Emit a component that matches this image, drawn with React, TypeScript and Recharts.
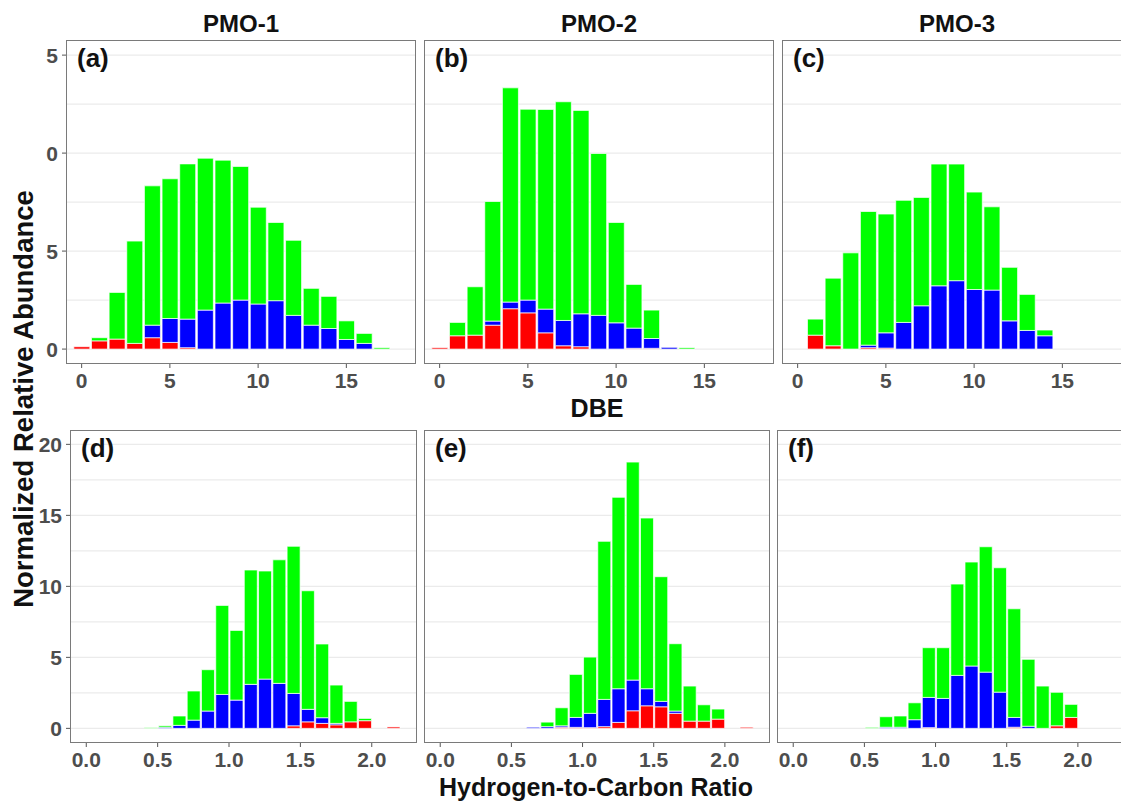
import { BarChart, Bar, XAxis, YAxis, CartesianGrid } from "recharts";

// DBE bins (0..17) and H/C bins (centres of 0.1-wide bins)
const dbeBins = [0, 1, 2, 3, 4, 5, 6, 7, 8, 9, 10, 11, 12, 13, 14, 15, 16, 17];
const hcBins = [0.45, 0.55, 0.65, 0.75, 0.85, 0.95, 1.05, 1.15, 1.25, 1.35, 1.45, 1.55, 1.65, 1.75, 1.85, 1.95, 2.05, 2.15];

// (a) PMO-1, DBE
const aRed = [0.12, 0.42, 0.51, 0.29, 0.58, 0.34, 0.07, 0, 0, 0, 0, 0, 0, 0, 0, 0, 0, 0];
const aBlue = [0, 0, 0, 0, 0.64, 1.22, 1.46, 1.99, 2.35, 2.5, 2.3, 2.47, 1.72, 1.22, 1.05, 0.49, 0.29, 0];
const aGreen = [0, 0.16, 2.38, 5.22, 7.11, 7.13, 7.92, 7.75, 7.29, 6.82, 4.94, 3.99, 3.83, 1.88, 1.64, 0.95, 0.51, 0.07];

// (b) PMO-2, DBE
const bRed = [0.07, 0.68, 0.71, 1.22, 2.06, 1.85, 0.83, 0.17, 0.12, 0, 0, 0.04, 0.04, 0, 0, 0, 0, 0];
const bBlue = [0, 0, 0, 0.21, 0.34, 0.65, 1.21, 1.29, 1.68, 1.72, 1.34, 1.03, 0.5, 0.09, 0, 0, 0, 0];
const bGreen = [0, 0.68, 2.47, 6.1, 10.93, 9.74, 10.19, 11.16, 10.38, 8.26, 5.12, 2.23, 1.45, 0, 0.07, 0, 0, 0];

// (c) PMO-3, DBE
const cRed = [0, 0.71, 0.17, 0, 0.07, 0.05, 0, 0, 0, 0, 0, 0, 0, 0, 0, 0, 0, 0];
const cBlue = [0, 0, 0, 0, 0.13, 0.78, 1.36, 2.21, 3.23, 3.49, 3.04, 3.01, 1.44, 0.95, 0.68, 0, 0, 0];
const cGreen = [0, 0.82, 3.45, 4.91, 6.82, 6.06, 6.23, 5.53, 6.21, 5.95, 4.97, 4.25, 2.73, 1.84, 0.29, 0, 0, 0];

// (d) PMO-1, H/C
const dRed = [0, 0, 0, 0, 0, 0, 0, 0, 0, 0, 0.18, 0.46, 0.35, 0.25, 0.46, 0.54, 0, 0.1];
const dBlue = [0, 0.08, 0.21, 0.58, 1.22, 2.39, 1.99, 3.1, 3.47, 3.17, 2.28, 0.88, 0.4, 0.1, 0, 0, 0, 0];
const dGreen = [0.05, 0.1, 0.66, 2.05, 2.91, 6.27, 4.91, 8.05, 7.61, 8.7, 10.36, 8.35, 5.19, 2.7, 1.44, 0.16, 0, 0];

// (e) PMO-2, H/C
const eRed = [0, 0, 0, 0, 0.08, 0.07, 0.05, 0.12, 0.42, 1.24, 1.59, 1.52, 1.06, 0.51, 0.51, 0.65, 0, 0.08];
const eBlue = [0, 0, 0.08, 0.12, 0.1, 0.7, 1.01, 1.92, 2.37, 2.16, 1.2, 0.38, 0.16, 0, 0, 0, 0, 0];
const eGreen = [0, 0, 0, 0.32, 1.27, 3.03, 3.96, 11.13, 13.48, 15.35, 12.02, 8.78, 4.74, 2.47, 1.15, 0.71, 0, 0];

// (f) PMO-3, H/C
const fRed = [0, 0, 0, 0, 0, 0.05, 0, 0, 0, 0, 0, 0.08, 0, 0, 0.18, 0.77, 0, 0];
const fBlue = [0, 0, 0.08, 0.08, 0.61, 2.13, 2.11, 3.73, 4.39, 3.96, 2.55, 0.69, 0.15, 0, 0, 0, 0, 0];
const fGreen = [0, 0.07, 0.74, 0.79, 1.19, 3.5, 3.57, 6.43, 7.32, 8.83, 8.76, 7.65, 4.71, 2.98, 2.36, 0.92, 0, 0];

const dbeTicks = [0, 5, 10, 15];
const hcTicks = [0, 0.5, 1, 1.5, 2];
const topYTicks = [0, 5, 10, 15];
const bottomYTicks = [0, 5, 10, 15, 20];

const FONT = '"Liberation Sans", Arial, sans-serif';
const TICK_COLOR = "#4d4d4d";

const rows = (xs: number[], red: number[], blue: number[], green: number[]) =>
  xs.map((x, i) => ({ x, red: red[i], blue: blue[i], green: green[i] }));

type PanelProps = {
  data: { x: number; red: number; blue: number; green: number }[];
  left: number;
  top: number;
  width: number;
  height: number;
  xDomain: [number, number];
  yDomain: [number, number];
  xTicks: number[];
  yTicks: number[];
  grid: number[];
  showY: boolean;
  barSize: number;
  xFmt: (v: number) => string;
  yFmt: (v: number) => string;
  label: string;
};

function Panel(p: PanelProps) {
  const yw = p.showY ? 64 : 0;
  const xh = 40;
  const tick = { fill: TICK_COLOR, fontSize: 21, fontWeight: "bold", fontFamily: FONT };
  return (
    <>
      <div style={{ position: "absolute", left: p.left - yw, top: p.top }}>
        <BarChart
          width={p.width + yw}
          height={p.height + xh}
          data={p.data}
          margin={{ top: 0, right: 0, bottom: 0, left: 0 }}
          barSize={p.barSize}
        >
          <CartesianGrid vertical={false} horizontalValues={p.grid} stroke="#ebebeb" strokeWidth={1.2} />
          <XAxis
            type="number"
            dataKey="x"
            domain={p.xDomain}
            allowDataOverflow
            ticks={p.xTicks}
            interval={0}
            height={xh}
            axisLine={false}
            tickSize={5}
            tickMargin={5}
            tickLine={{ stroke: "#555" }}
            tick={tick}
            tickFormatter={p.xFmt}
          />
          <YAxis
            hide={!p.showY}
            type="number"
            domain={p.yDomain}
            allowDataOverflow
            ticks={p.yTicks}
            interval={0}
            width={yw}
            axisLine={false}
            tickSize={5}
            tickMargin={4}
            tickLine={{ stroke: "#555" }}
            tick={tick}
            tickFormatter={p.yFmt}
          />
          <Bar dataKey="red" stackId="s" fill="#ff0000" stroke="#ffffff" strokeWidth={0.7} isAnimationActive={false} />
          <Bar dataKey="blue" stackId="s" fill="#0000ff" stroke="#ffffff" strokeWidth={0.7} isAnimationActive={false} />
          <Bar dataKey="green" stackId="s" fill="#00ff00" stroke="#ffffff" strokeWidth={0.7} isAnimationActive={false} />
        </BarChart>
      </div>
      <div
        style={{
          position: "absolute",
          left: p.left - 1,
          top: p.top - 1,
          width: p.width,
          height: p.height,
          border: "1.5px solid #7a7a7a",
          pointerEvents: "none",
        }}
      />
      <div
        style={{
          position: "absolute",
          left: p.left + 10,
          top: p.top + 2,
          fontFamily: FONT,
          fontWeight: "bold",
          fontSize: 26,
          color: "#111",
        }}
      >
        {p.label}
      </div>
    </>
  );
}

const topX: [number, number] = [-0.83, 18.89];
const topY: [number, number] = [-0.71, 15.72];
const botX: [number, number] = [-0.107, 2.31];
const botY: [number, number] = [-0.96, 20.94];

const lastDigit = (v: number) => String(v).slice(-1);
const plain = (v: number) => String(v);
const oneDec = (v: number) => v.toFixed(1);

export default function App() {
  const common = { xDomain: topX, yDomain: topY, xTicks: dbeTicks, yTicks: topYTicks, grid: [0, 2.5, 5, 7.5, 10, 12.5, 15], barSize: 16, xFmt: plain, yFmt: lastDigit, top: 41, width: 348, height: 322 };
  const commonB = { xDomain: botX, yDomain: botY, xTicks: hcTicks, yTicks: bottomYTicks, grid: [0, 2.5, 5, 7.5, 10, 12.5, 15, 17.5, 20], barSize: 13, xFmt: oneDec, yFmt: plain, top: 431, height: 311 };
  const title = (text: string, cx: number, cy: number, size: number) => (
    <div
      style={{
        position: "absolute",
        left: cx - 200,
        width: 400,
        top: cy - size * 0.6,
        textAlign: "center",
        fontFamily: FONT,
        fontWeight: "bold",
        fontSize: size,
        color: "#111",
        lineHeight: `${size * 1.2}px`,
      }}
    >
      {text}
    </div>
  );
  return (
    <div style={{ position: "absolute", left: 0, top: 0, width: 1121, height: 803, overflow: "hidden", background: "#fff" }}>
      <Panel {...common} data={rows(dbeBins, aRed, aBlue, aGreen)} left={67} showY label="(a)" />
      <Panel {...common} data={rows(dbeBins, bRed, bBlue, bGreen)} left={425} showY={false} label="(b)" />
      <Panel {...common} data={rows(dbeBins, cRed, cBlue, cGreen)} left={783} showY={false} label="(c)" />
      <Panel {...commonB} data={rows(hcBins, dRed, dBlue, dGreen)} left={71} width={345} showY label="(d)" />
      <Panel {...commonB} data={rows(hcBins, eRed, eBlue, eGreen)} left={425} width={344} showY={false} label="(e)" />
      <Panel {...commonB} data={rows(hcBins, fRed, fBlue, fGreen)} left={778} width={344} showY={false} label="(f)" />
      {title("PMO-1", 241, 24, 24)}
      {title("PMO-2", 599, 24, 24)}
      {title("PMO-3", 957, 24, 24)}
      {title("DBE", 597, 408, 25)}
      {title("Hydrogen-to-Carbon Ratio", 596, 787, 25)}
      <div
        style={{
          position: "absolute",
          left: 24 - 300,
          top: 399 - 16,
          width: 600,
          textAlign: "center",
          transform: "rotate(-90deg)",
          fontFamily: FONT,
          fontWeight: "bold",
          fontSize: 27.5,
          lineHeight: "32px",
          color: "#111",
        }}
      >
        Normalized Relative Abundance
      </div>
    </div>
  );
}
